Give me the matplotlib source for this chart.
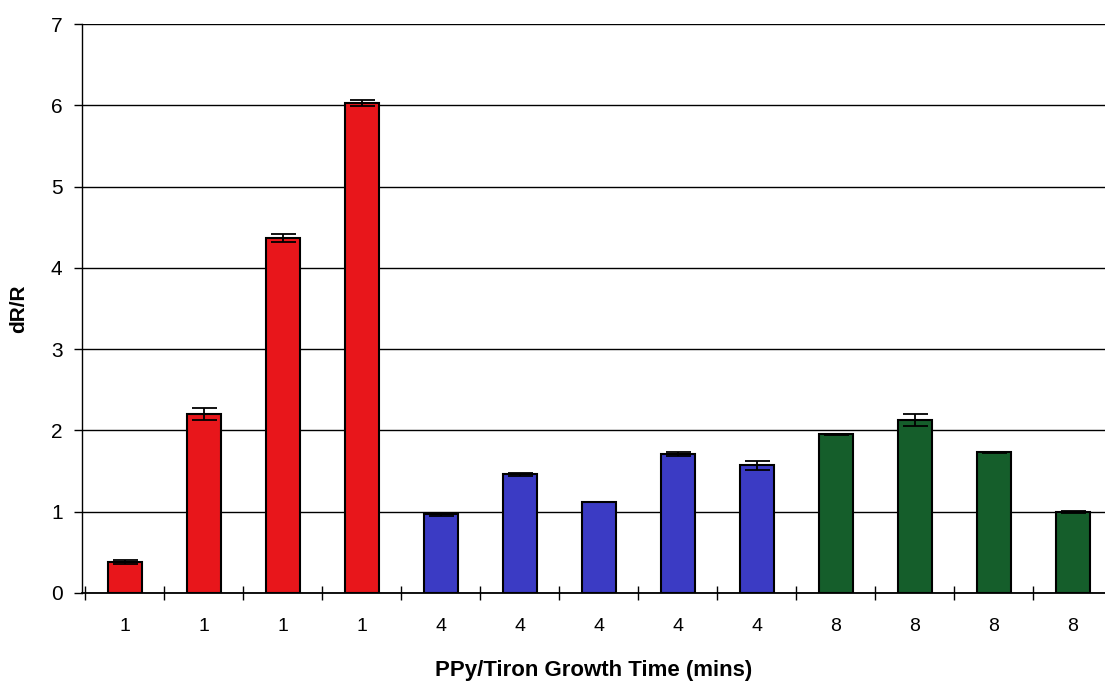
import matplotlib.pyplot as plt
import numpy as np

# Dados
labels = ["1", "1", "1", "1", "4", "4", "4", "4", "4", "8", "8", "8", "8"]
valores = [0.38, 2.20, 4.37, 6.03, 0.97, 1.46, 1.12, 1.71, 1.57, 1.95, 2.13, 1.73, 1.00]
erros = [0.02, 0.07, 0.05, 0.04, 0.02, 0.02, 0.0, 0.02, 0.06, 0.01, 0.07, 0.01, 0.01]
grupos = ["r", "r", "r", "r", "b", "b", "b", "b", "b", "g", "g", "g", "g"]

cores = {"r": "#e8161b", "b": "#3b3bc4", "g": "#155e2b"}

plt.rcParams['font.family'] = ['Liberation Sans', 'DejaVu Sans']

fig = plt.figure(figsize=(11.05, 6.81), dpi=100)
ax = fig.add_axes([82 / 1105, 88 / 681, 1023 / 1105, 569 / 681])

x = np.arange(len(valores))
ax.bar(x, valores, width=0.43, color=[cores[g] for g in grupos],
       edgecolor="black", linewidth=1.5, zorder=3)
ax.errorbar(x, valores, yerr=erros, fmt="none", ecolor="black",
            elinewidth=1.3, capsize=9, capthick=1.3, zorder=4)

ax.set_ylim(0, 7)
ax.set_yticks(range(0, 8))
ax.yaxis.grid(True, color="black", linewidth=1.0, zorder=0)
ax.set_xlim(-0.54, 12.41)

# ticks nas fronteiras entre categorias, rótulos no centro
ax.set_xticks(np.arange(-0.5, 12.0, 1.0))
ax.set_xticklabels([])
ax.set_xticks(x, minor=True)
ax.set_xticklabels(labels, minor=True)
ax.tick_params(axis="x", which="major", direction="inout", length=10, width=1)
ax.tick_params(axis="x", which="minor", length=0, labelsize=14, pad=18)
ax.tick_params(axis="y", direction="out", length=6, width=1, labelsize=15, pad=8)

for s in ["top", "right"]:
    ax.spines[s].set_visible(False)
ax.spines["left"].set_linewidth(1.0)
ax.spines["bottom"].set_linewidth(1.3)

ax.set_ylabel("dR/R", fontsize=15, fontweight="bold", labelpad=16)
ax.set_xlabel("PPy/Tiron Growth Time (mins)", fontsize=16, fontweight="bold", labelpad=18)

plt.savefig("out.png", dpi=100)
